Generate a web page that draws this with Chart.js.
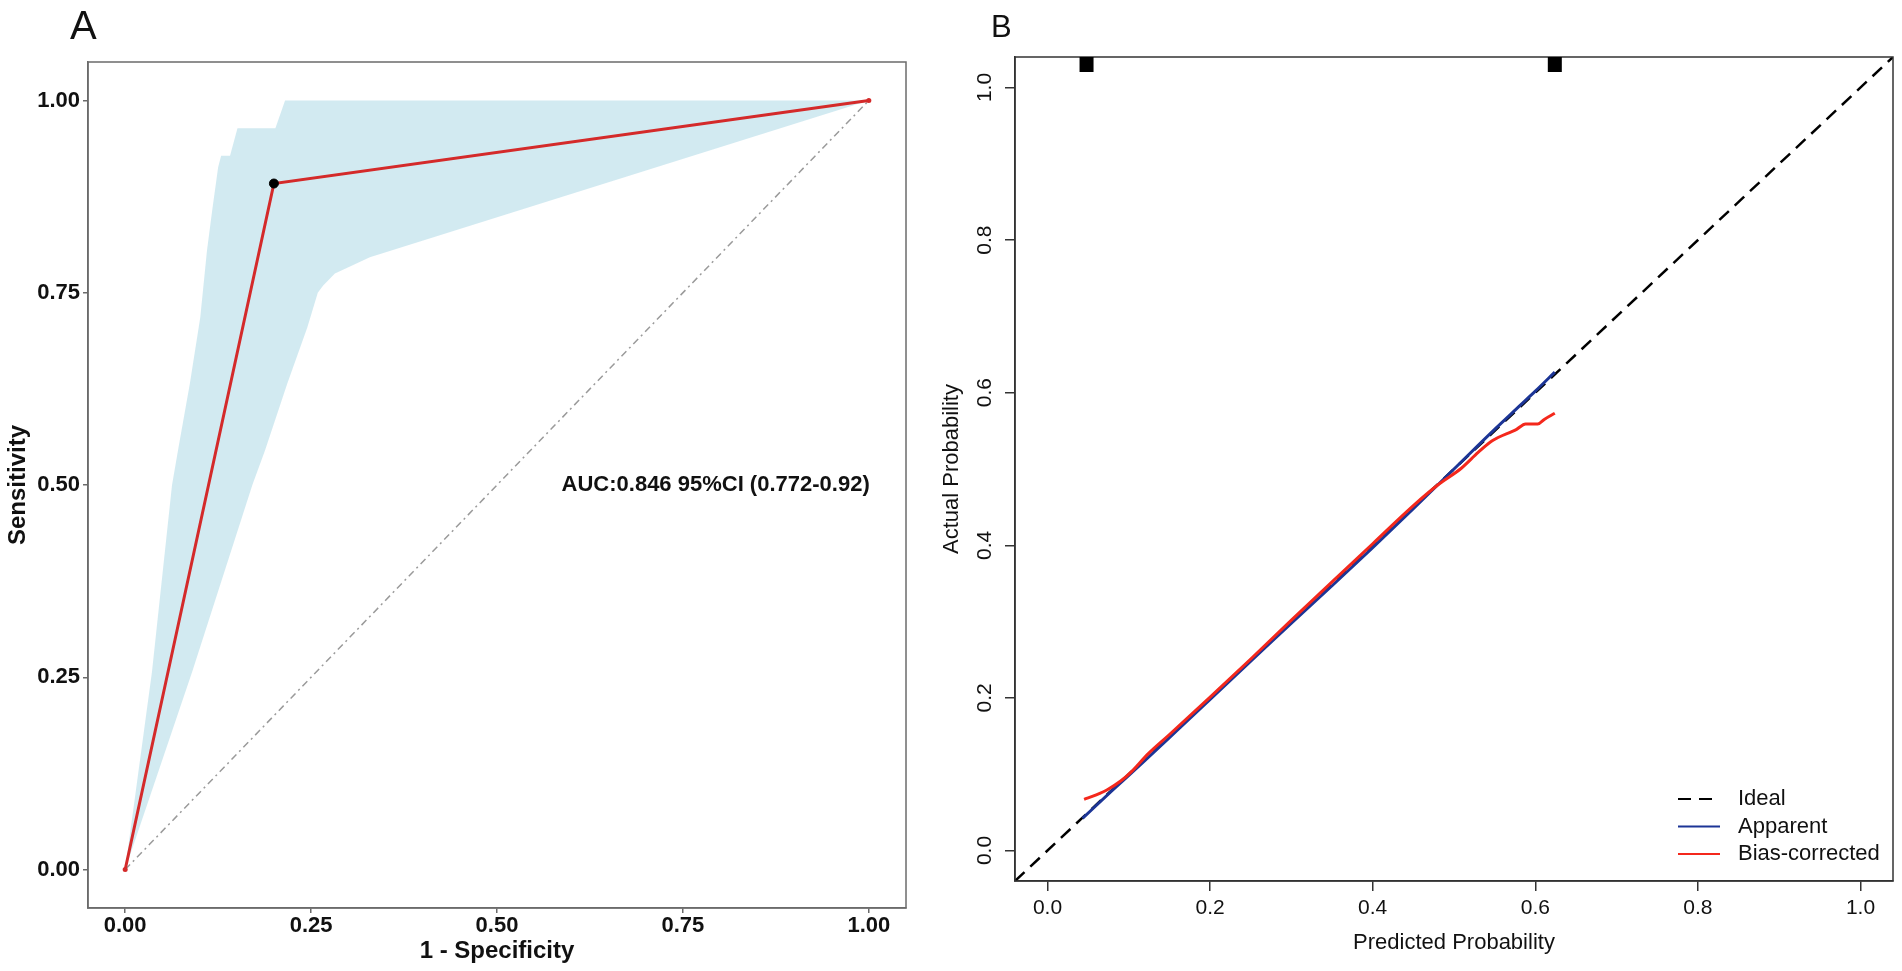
<!DOCTYPE html>
<html>
<head>
<meta charset="utf-8">
<title>ROC curve and calibration curve</title>
<script src="https://cdn.jsdelivr.net/npm/chart.js"></script>
<style>
    html, body { margin: 0; padding: 0; background: #fff; }
    #wrap { position: relative; width: 1902px; height: 971px; }
    #chartRoc { position: absolute; left: 0; top: 0; }
    #chartCal { position: absolute; left: 930px; top: 0; }
</style>
</head>
<body>
<div id="wrap">
    <canvas id="chartRoc" width="930" height="971"></canvas>
    <canvas id="chartCal" width="972" height="971"></canvas>
</div>
<script>
// ---- panel A: ROC ----
const rocX = [0, 0.2, 1];
const rocY = [0, 0.892, 1];
const cutoffX = [0.2];
const cutoffY = [0.892];

// 95% CI band, upper/left edge then lower/right edge
const ciUpperX = [0, 0.036, 0.063, 0.071, 0.087, 0.101, 0.110, 0.117, 0.125, 0.129, 0.141, 0.151, 0.202, 0.215, 1];
const ciUpperY = [0, 0.257, 0.500, 0.545, 0.632, 0.718, 0.805, 0.857, 0.913, 0.928, 0.928, 0.964, 0.964, 1, 1];
const ciLowerX = [0, 0.090, 0.171, 0.188, 0.218, 0.245, 0.259, 0.266, 0.282, 0.298, 0.329, 1];
const ciLowerY = [0, 0.257, 0.500, 0.545, 0.632, 0.705, 0.750, 0.759, 0.775, 0.782, 0.796, 1];

const chanceXY = [0, 1];
const rocTicks = [0, 0.25, 0.5, 0.75, 1];
const aucLabel = 'AUC:0.846 95%CI (0.772-0.92)';

// ---- panel B: calibration ----
const apparentX = [0.043, 0.08, 0.12, 0.16, 0.2, 0.25, 0.3, 0.35, 0.4, 0.45, 0.5, 0.55, 0.58, 0.6, 0.624];
const apparentY = [0.042, 0.079, 0.118, 0.158, 0.198, 0.248, 0.298, 0.347, 0.397, 0.448, 0.500, 0.552, 0.582, 0.602, 0.627];

const biasX = [0.045, 0.06, 0.074, 0.09, 0.103, 0.124, 0.15, 0.2, 0.25, 0.3, 0.35, 0.4, 0.45, 0.48, 0.509, 0.53, 0.547, 0.577, 0.588, 0.603, 0.611, 0.624];
const biasY = [0.067, 0.073, 0.080, 0.091, 0.103, 0.127, 0.152, 0.201, 0.251, 0.302, 0.352, 0.402, 0.452, 0.479, 0.501, 0.522, 0.537, 0.552, 0.559, 0.559, 0.565, 0.573];

const rugX = [0.048, 0.624];
const calTicks = [0, 0.2, 0.4, 0.6, 0.8, 1];
const calMin = -0.04;
const calMax = 1.04;

const FONT = '"Liberation Sans", Arial, sans-serif';
Chart.defaults.font.family = FONT;
Chart.defaults.color = '#111';

const pts = (xs, ys) => xs.map((x, i) => ({x: x, y: ys[i]}));

const framePlugin = {
    id: 'frame',
    afterDatasetsDraw(chart, args, opts) {
        const a = chart.chartArea;
        const ctx = chart.ctx;
        ctx.save();
        ctx.strokeStyle = opts.color;
        ctx.lineWidth = opts.width;
        ctx.strokeRect(a.left, a.top, a.right - a.left, a.bottom - a.top);
        ctx.restore();
    }
};

const rocText = {
    id: 'rocText',
    afterDraw(chart) {
        const {ctx, scales: {x, y}} = chart;
        ctx.save();
        ctx.fillStyle = '#111';
        ctx.font = '40px ' + FONT;
        ctx.fillText('A', 70, 39);
        ctx.font = 'bold 22px ' + FONT;
        ctx.textAlign = 'center';
        ctx.textBaseline = 'middle';
        ctx.fillText(aucLabel, x.getPixelForValue(0.794), y.getPixelForValue(0.5));
        ctx.restore();
    }
};

const calText = {
    id: 'calText',
    afterDraw(chart) {
        const {ctx, chartArea: a, scales: {x}} = chart;
        ctx.save();
        ctx.fillStyle = '#111';
        ctx.font = '31px ' + FONT;
        ctx.fillText('B', 61, 37);

        // rug of predicted values along the top
        ctx.fillStyle = '#000';
        rugX.forEach(v => {
            ctx.fillRect(x.getPixelForValue(v) - 7, a.top, 14, 15);
        });

        // legend, bottom right
        ctx.font = '22px ' + FONT;
        ctx.textBaseline = 'middle';
        ctx.fillStyle = '#111';
        ['Ideal', 'Apparent', 'Bias-corrected'].forEach((name, i) => {
            const ds = chart.data.datasets.find(d => d.label === name);
            const yy = a.bottom - 82 + i * 27.5;
            ctx.strokeStyle = ds.borderColor;
            ctx.lineWidth = 2;
            ctx.setLineDash(ds.borderDash || []);
            ctx.beginPath();
            ctx.moveTo(a.right - 215, yy);
            ctx.lineTo(a.right - 173, yy);
            ctx.stroke();
            ctx.setLineDash([]);
            ctx.fillText(name, a.right - 155, yy);
        });
        ctx.restore();
    }
};

function axisA(ticks, fitSize, isX, title) {
    const axis = {
        type: 'linear',
        min: -0.05,
        max: 1.05,
        afterBuildTicks: s => { s.ticks = ticks.map(v => ({value: v})); },
        ticks: {
            callback: v => v.toFixed(2),
            font: {size: 22, weight: 'bold'},
            color: '#111',
            autoSkip: false,
            maxRotation: 0,
            padding: isX ? 0 : 3
        },
        grid: {drawOnChartArea: false, drawTicks: true, tickLength: 5, color: '#6b6b6b', lineWidth: 1.5},
        border: {color: '#6b6b6b', width: 1.5},
        title: {
            display: true,
            text: title,
            font: {size: 24, weight: 'bold'},
            color: '#111',
            padding: isX ? {top: 0, bottom: 5} : {top: 4, bottom: 0}
        }
    };
    if (isX) axis.afterFit = s => { s.height = fitSize; };
    else axis.afterFit = s => { s.width = fitSize; };
    return axis;
}

new Chart(document.getElementById('chartRoc'), {
    type: 'line',
    data: {
        datasets: [
            {
                label: 'Cutoff',
                data: pts(cutoffX, cutoffY),
                showLine: false,
                pointRadius: 4.5,
                pointBackgroundColor: '#000',
                pointBorderColor: '#000',
                order: 0
            }, {
                label: 'ROC',
                data: pts(rocX, rocY),
                borderColor: '#d42a2a',
                borderWidth: 3,
                pointRadius: 2.5,
                pointBorderWidth: 0,
                pointBackgroundColor: '#d42a2a',
                order: 1
            }, {
                label: 'Reference',
                data: pts(chanceXY, chanceXY),
                borderColor: '#9a9a9a',
                borderWidth: 1.5,
                borderDash: [7, 4, 2, 4],
                pointRadius: 0,
                order: 2
            }, {
                label: '95% CI',
                data: pts(ciUpperX, ciUpperY).concat(pts(ciLowerX, ciLowerY).reverse()),
                borderWidth: 0,
                borderColor: 'rgba(0,0,0,0)',
                backgroundColor: 'rgba(173,216,230,0.55)',
                fill: 'shape',
                pointRadius: 0,
                order: 3
            }
        ]
    },
    options: {
        responsive: false,
        animation: false,
        events: [],
        layout: {padding: {left: 0, right: 24, top: 62, bottom: 0}},
        plugins: {
            legend: {display: false},
            tooltip: {enabled: false},
            frame: {color: '#6b6b6b', width: 1.5}
        },
        scales: {
            x: axisA(rocTicks, 63, true, '1 - Specificity'),
            y: axisA(rocTicks, 88, false, 'Sensitivity')
        }
    },
    plugins: [framePlugin, rocText]
});

new Chart(document.getElementById('chartCal'), {
    type: 'line',
    data: {
        datasets: [
            {
                label: 'Bias-corrected',
                data: pts(biasX, biasY),
                borderColor: '#f4281c',
                borderWidth: 3,
                pointRadius: 0,
                cubicInterpolationMode: 'monotone',
                order: 0
            }, {
                label: 'Apparent',
                data: pts(apparentX, apparentY),
                borderColor: '#1c3596',
                borderWidth: 3,
                pointRadius: 0,
                cubicInterpolationMode: 'monotone',
                order: 1
            }, {
                label: 'Ideal',
                data: pts([calMin, calMax], [calMin, calMax]),
                borderColor: '#000',
                borderWidth: 2.5,
                borderDash: [13, 8],
                pointRadius: 0,
                order: 2
            }
        ]
    },
    options: {
        responsive: false,
        animation: false,
        events: [],
        layout: {padding: {left: 0, right: 9, top: 57, bottom: 0}},
        plugins: {
            legend: {display: false},
            tooltip: {enabled: false},
            frame: {color: '#333', width: 1.5}
        },
        scales: {
            x: {
                type: 'linear',
                min: calMin,
                max: calMax,
                afterBuildTicks: s => { s.ticks = calTicks.map(v => ({value: v})); },
                afterFit: s => { s.height = 90; },
                ticks: {callback: v => v.toFixed(1), font: {size: 21}, color: '#111', padding: 4.5, maxRotation: 0, autoSkip: false},
                grid: {drawOnChartArea: false, drawTicks: true, tickLength: 10, color: '#333', lineWidth: 1.5},
                border: {color: '#333', width: 1.5},
                title: {display: true, text: 'Predicted Probability', font: {size: 22}, color: '#111', padding: {top: 0, bottom: 15}}
            },
            y: {
                type: 'linear',
                min: calMin,
                max: calMax,
                afterBuildTicks: s => { s.ticks = calTicks.map(v => ({value: v})); },
                afterFit: s => { s.width = 85; },
                ticks: {
                    callback: v => v.toFixed(1),
                    font: {size: 21},
                    color: '#111',
                    padding: 5,
                    minRotation: 90,
                    maxRotation: 90,
                    crossAlign: 'center',
                    autoSkip: false
                },
                grid: {drawOnChartArea: false, drawTicks: true, tickLength: 10, color: '#333', lineWidth: 1.5},
                border: {color: '#333', width: 1.5},
                title: {display: true, text: 'Actual Probability', font: {size: 22}, color: '#111', padding: {top: 9, bottom: 0}}
            }
        }
    },
    plugins: [framePlugin, calText]
});
</script>
</body>
</html>
